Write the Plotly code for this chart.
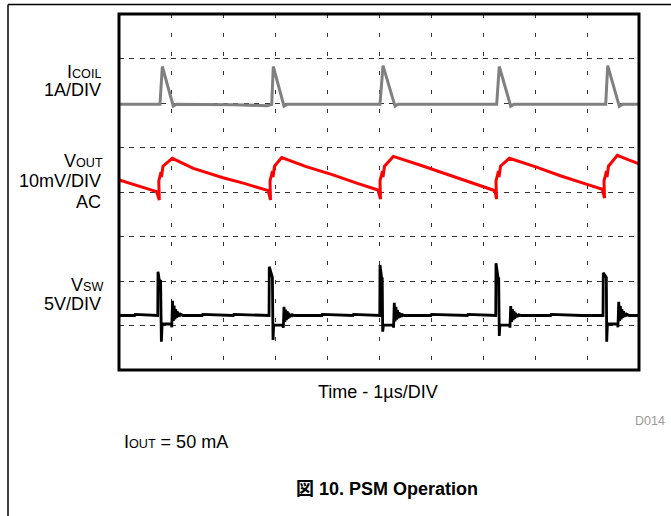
import plotly.graph_objects as go

# ---------------- data (x: time in µs = divisions, y: screen divisions 0..8) ----------------
icoil_t = [0.0, 0.40, 0.70, 0.788, 0.833, 1.044, 1.10, 1.60, 2.20, 2.85, 2.937, 2.967, 3.173, 3.23,
           4.00, 4.60, 5.019, 5.077, 5.308, 5.36, 6.20, 6.80, 7.263, 7.313, 7.533, 7.59,
           8.30, 8.90, 9.36, 9.398, 9.621, 9.68, 10.0]
icoil_v = [5.97, 5.97, 5.96, 5.97, 6.82, 5.93, 5.97, 5.97, 5.96, 5.94, 5.97, 6.82, 5.93, 5.97,
           5.97, 5.96, 5.97, 6.84, 5.93, 5.97, 5.97, 5.96, 5.97, 6.82, 5.93, 5.97,
           5.97, 5.96, 5.97, 6.84, 5.93, 5.97, 5.97]

vout_t = [0.0, 0.35, 0.725, 0.775, 0.765, 0.808, 0.817, 0.846, 1.025,
          1.43, 2.00, 2.39, 2.87, 2.913, 2.904, 2.952, 2.962, 2.99, 3.129,
          3.60, 4.10, 4.60, 4.981, 5.029, 5.019, 5.067, 5.077, 5.106, 5.275,
          5.80, 6.30, 6.80, 7.231, 7.26, 7.25, 7.298, 7.308, 7.337, 7.506,
          8.00, 8.50, 9.00, 9.294, 9.337, 9.327, 9.375, 9.385, 9.413, 9.583,
          9.80, 9.955, 10.0]
vout_v = [4.27, 4.15, 4.007, 3.82, 4.247, 4.449, 4.337, 4.58, 4.757,
          4.53, 4.32, 4.20, 4.03, 3.82, 4.247, 4.472, 4.337, 4.58, 4.775,
          4.57, 4.39, 4.19, 4.045, 3.843, 4.247, 4.472, 4.337, 4.58, 4.80,
          4.60, 4.40, 4.20, 4.029, 3.843, 4.247, 4.472, 4.337, 4.58, 4.757,
          4.57, 4.36, 4.17, 4.061, 3.865, 4.247, 4.472, 4.337, 4.58, 4.825,
          4.72, 4.645, 4.635]

vsw_t = [0.0, 0.30, 0.31, 0.60, 0.745, 0.75, 0.775, 0.80, 0.815, 0.83, 1.01, 1.015, 1.029,
         1.045, 1.06, 1.075, 1.09, 1.105, 1.12, 1.135, 1.15, 1.17, 1.19, 1.23,
         1.60, 1.61, 2.20, 2.21, 2.885, 2.89, 2.935, 2.95, 2.962, 2.975, 3.154, 3.16, 3.173,
         3.189, 3.204, 3.219, 3.234, 3.249, 3.264, 3.279, 3.294, 3.314, 3.334, 3.37,
         3.90, 3.91, 4.50, 4.51, 5.015, 5.019, 5.05, 5.062, 5.071, 5.085, 5.275, 5.28, 5.294,
         5.31, 5.325, 5.34, 5.355, 5.37, 5.385, 5.40, 5.415, 5.435, 5.455, 5.49,
         6.00, 6.01, 6.70, 6.71, 7.245, 7.25, 7.29, 7.302, 7.313, 7.325, 7.513, 7.518, 7.533,
         7.549, 7.564, 7.579, 7.594, 7.609, 7.624, 7.639, 7.654, 7.674, 7.694, 7.73,
         8.30, 8.31, 8.90, 9.308, 9.313, 9.36, 9.372, 9.379, 9.392, 9.59, 9.595, 9.61,
         9.626, 9.641, 9.656, 9.671, 9.686, 9.701, 9.716, 9.731, 9.751, 9.771, 9.81, 10.0]
vsw_v = [1.225, 1.225, 1.25, 1.225, 1.225, 2.209, 2.02, 2.0, 0.636, 1.034, 1.034, 0.96, 1.557,
         1.10, 1.45, 1.14, 1.37, 1.17, 1.32, 1.19, 1.28, 1.21, 1.25, 1.225,
         1.225, 1.25, 1.225, 1.25, 1.225, 2.321, 2.09, 2.08, 0.674, 1.01, 1.01, 0.95, 1.422,
         1.08, 1.36, 1.12, 1.32, 1.15, 1.29, 1.18, 1.26, 1.20, 1.24, 1.225,
         1.225, 1.25, 1.225, 1.25, 1.225, 2.36, 2.07, 2.06, 0.861, 1.01, 1.01, 0.95, 1.512,
         1.09, 1.42, 1.13, 1.35, 1.16, 1.30, 1.18, 1.27, 1.20, 1.24, 1.225,
         1.225, 1.25, 1.225, 1.25, 1.225, 2.398, 2.07, 2.06, 0.764, 1.01, 1.01, 0.95, 1.438,
         1.08, 1.37, 1.12, 1.32, 1.15, 1.29, 1.18, 1.26, 1.20, 1.24, 1.225,
         1.225, 1.25, 1.225, 1.225, 2.187, 2.10, 2.08, 0.636, 1.034, 1.034, 0.96, 1.535,
         1.10, 1.44, 1.14, 1.37, 1.17, 1.32, 1.19, 1.28, 1.21, 1.25, 1.225, 1.225]

x_range = [0, 10]
y_range = [0, 8]

W, H = 671, 516


def px(x):
    return x / W


def py(y):
    return 1 - y / H


fig = go.Figure()
fig.add_trace(go.Scatter(x=icoil_t, y=icoil_v, mode="lines",
                         line=dict(color="#808080", width=3), hoverinfo="skip"))
fig.add_trace(go.Scatter(x=vout_t, y=vout_v, mode="lines",
                         line=dict(color="#ff0000", width=3), hoverinfo="skip"))
fig.add_trace(go.Scatter(x=vsw_t, y=vsw_v, mode="lines",
                         line=dict(color="#000000", width=2.8), hoverinfo="skip"))

font = "Liberation Sans, Arial, Noto Sans CJK JP, sans-serif"
FS = 18
SUB = '<span style="font-size:12.6px">{}</span>'

annotations = []


def label(text, x, y, xanchor="right", size=FS, color="#000", bold=False):
    t = f"<b>{text}</b>" if bold else text
    annotations.append(dict(text=t, x=px(x), y=py(y), xref="paper", yref="paper",
                            xanchor=xanchor, yanchor="middle", showarrow=False,
                            font=dict(family=font, size=size, color=color)))


label("I" + SUB.format("COIL"), 103, 72)
label("1A/DIV", 103, 90.5)
label("V" + SUB.format("OUT"), 105, 160.5)
label("10mV/DIV", 103, 181)
label("AC", 103, 201.5)
label("V" + SUB.format("SW"), 105, 285)
label("5V/DIV", 103, 304)
label("Time - 1µs/DIV", 378, 391.5, xanchor="center")
label("D014", 667, 421, size=12.5, color="#9a9a9a")
label("I" + SUB.format("OUT") + " = 50 mA", 122, 442, xanchor="left")
label("図 10. PSM Operation", 386.5, 489, xanchor="center", bold=True)

shapes = [
    # plot frame
    dict(type="rect", xref="x domain", yref="y domain", x0=0, x1=1, y0=0, y1=1,
         line=dict(color="#000", width=3), layer="above"),
    # page border lines
    dict(type="line", xref="paper", yref="paper", x0=px(8), x1=1, y0=py(4.5), y1=py(4.5),
         line=dict(color="#000", width=1.5)),
    dict(type="line", xref="paper", yref="paper", x0=px(8), x1=px(8), y0=py(4.5), y1=0,
         line=dict(color="#000", width=1.5)),
]

fig.update_layout(
    width=W, height=H,
    margin=dict(l=0, r=0, t=0, b=0),
    paper_bgcolor="white", plot_bgcolor="white",
    showlegend=False,
    annotations=annotations,
    shapes=shapes,
    xaxis=dict(domain=[px(119), px(639)], range=x_range, dtick=1, showticklabels=False,
               ticks="", showgrid=True, gridcolor="#333", gridwidth=1, griddash="4px,15px",
               zeroline=False, showline=False, fixedrange=True),
    yaxis=dict(domain=[py(370), py(14)], range=y_range, dtick=1, showticklabels=False,
               ticks="", showgrid=True, gridcolor="#333", gridwidth=1, griddash="5px,5.4px",
               zeroline=False, showline=False, fixedrange=True),
)

fig.write_html("out.html", config={"displayModeBar": False})
